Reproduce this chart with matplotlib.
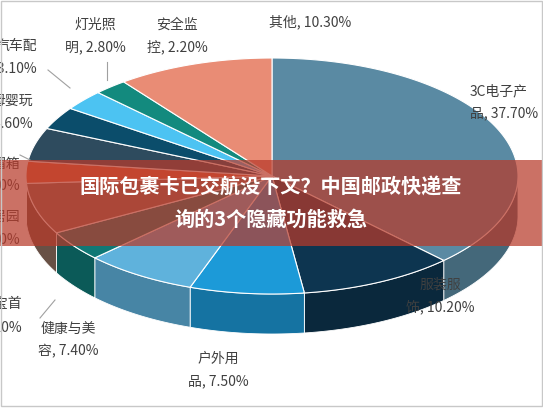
import numpy as np
import matplotlib
matplotlib.use('Agg')
import matplotlib.pyplot as plt
from matplotlib.patches import Polygon, Rectangle
import matplotlib.colors as mcolors

plt.rcParams['font.family'] = ['Noto Sans CJK SC', 'DejaVu Sans']

# slices clockwise from 12 o'clock
names = ["3C电子产品", "服装服饰", "户外用品", "健康与美容", "珠宝首饰", "家居园艺",
         "鞋帽箱包", "母婴玩具", "汽车配件", "灯光照明", "安全监控", "其他"]
shares = [37.7, 10.2, 7.5, 7.4, 4.2, 7.0, 3.0, 4.6, 3.1, 2.8, 2.2, 10.3]
colors = ["#5a8aa3", "#0d3550", "#1c9ad8", "#5fb2dc", "#0f7875", "#8a6a5c",
          "#e0623c", "#2e4b5e", "#0b4d6b", "#4cc3f2", "#138a7e", "#e98c75"]
title_lines = ["国际包裹卡已交航没下文？中国邮政快递查", "询的3个隐藏功能救急"]

fig = plt.figure(figsize=(5.43, 4.08), dpi=100)
ax = fig.add_axes([0, 0, 1, 1])
ax.set_xlim(0, 543)
ax.set_ylim(408, 0)
ax.axis('off')

cx, cy, R, r, depth = 272, 176, 246, 118, 40

def pt(t):
    return cx + R * np.cos(t), cy - r * np.sin(t)

fr = np.array(shares) / sum(shares)
ends = np.pi / 2 - 2 * np.pi * np.cumsum(fr)
starts = np.concatenate([[np.pi / 2], ends[:-1]])

def darker(c, f=0.75):
    rgb = np.array(mcolors.to_rgb(c))
    return rgb * f

# side walls (front half only)
for a1, a2, c in zip(starts, ends, colors):
    lo, hi = min(a1, a2), max(a1, a2)
    ts = np.linspace(lo, hi, 200)
    ts = ts[np.sin(ts) < 0.02]
    if len(ts) < 2:
        continue
    x, y = pt(ts)
    poly = np.vstack([np.column_stack([x, y]), np.column_stack([x[::-1], y[::-1] + depth])])
    ax.add_patch(Polygon(poly, closed=True, fc=darker(c), ec='white', lw=0.6))

# top faces
for a1, a2, c in zip(starts, ends, colors):
    ts = np.linspace(a1, a2, 200)
    x, y = pt(ts)
    poly = np.vstack([[cx, cy], np.column_stack([x, y])])
    ax.add_patch(Polygon(poly, closed=True, fc=c, ec='white', lw=0.8))

lab = dict(fontsize=10, color='#404040', linespacing=1.7)
ax.text(310, 22, "其他, 10.30%", ha='center', va='center', **lab)
ax.text(95, 36, "灯光照\n明, 2.80%", ha='center', va='center', **lab)
ax.text(177, 36, "安全监\n控, 2.20%", ha='center', va='center', **lab)
ax.text(470, 102, "3C电子产\n品, 37.70%", ha='left', va='center', **lab)
ax.text(440, 296, "服装服\n饰, 10.20%", ha='center', va='center', **lab)
ax.text(218, 370, "户外用\n品, 7.50%", ha='center', va='center', **lab)
ax.text(68, 340, "健康与美\n容, 7.40%", ha='center', va='center', **lab)
ax.text(37, 57, "汽车配\n件, 3.10%", ha='right', va='center', **lab)
ax.text(33, 112, "母婴玩\n具, 4.60%", ha='right', va='center', **lab)
ax.text(20, 175, "鞋帽箱\n包, 3.00%", ha='right', va='center', **lab)
ax.text(20, 228, "家居园\n艺, 7.00%", ha='right', va='center', **lab)
ax.text(22, 316, "珠宝首\n饰, 4.20%", ha='right', va='center', **lab)

# leader lines
for xs, ys in [([48, 70], [70, 88]), ([107, 107], [62, 80]), ([40, 55], [318, 300]),
               ([20, 30], [155, 160])]:
    ax.plot(xs, ys, color='#a0a0a0', lw=0.8)

# banner overlay
ax.add_patch(Rectangle((0, 160), 543, 86, fc='#b83a2a', alpha=0.72, ec='none', zorder=5))
ax.text(271, 187, title_lines[0], ha='center', va='center', color='white',
        fontsize=14.5, fontweight='bold', zorder=6)
ax.text(271, 219, title_lines[1], ha='center', va='center', color='white',
        fontsize=14.5, fontweight='bold', zorder=6)

ax.add_patch(Rectangle((1, 1), 541, 405, fc='none', ec='#c8c8c8', lw=1, zorder=7))

fig.savefig("out.png", dpi=100)
